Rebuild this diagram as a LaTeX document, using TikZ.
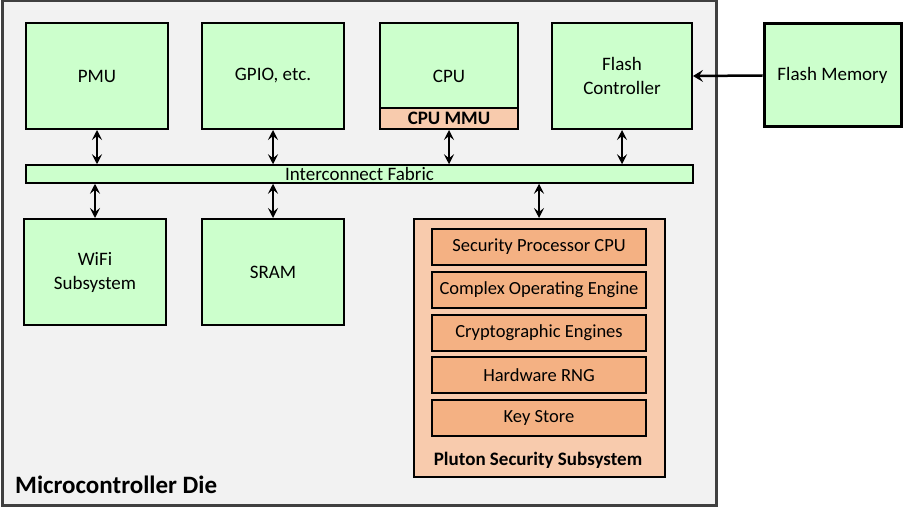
\documentclass[tikz,border=0pt]{standalone}
\usepackage{fontspec}
\setmainfont{Carlito}
\usetikzlibrary{arrows.meta}
\definecolor{gfill}{HTML}{CCFFCC}
\definecolor{ofill}{HTML}{F8CBAD}
\definecolor{odark}{HTML}{F4B183}
\definecolor{diefill}{HTML}{F2F2F2}
\definecolor{dieline}{HTML}{404040}
\tikzset{
  gbox/.style={draw=black, line width=2pt, fill=gfill, inner sep=0pt, align=center,
    font=\fontsize{19}{24}\selectfont},
  obox/.style={draw=black, line width=2pt, fill=odark, inner sep=0pt, align=center,
    minimum width=214pt, minimum height=36pt, font=\fontsize{18.5}{23}\selectfont},
  biarrow/.style={line width=1.5pt, {Stealth[length=10pt,width=10pt,inset=4pt]}-{Stealth[length=10pt,width=10pt,inset=4pt]}},
  onearrow/.style={line width=2.5pt, -{Stealth[length=10pt,width=12pt,inset=4pt]}}
}
\begin{document}
\begin{tikzpicture}[x=1pt,y=-1pt]
\useasboundingbox (0,0) rectangle (913,508);
% die
\node[draw=dieline, line width=3pt, fill=diefill, minimum width=714pt, minimum height=504pt, inner sep=0pt] (die) at (359,253) {};
\node[anchor=base west, font=\fontsize{25}{30}\selectfont\bfseries, inner sep=0pt] (dielabel) at (15,493) {Microcontroller Die};
% top row
\node[gbox, minimum width=142pt, minimum height=106pt] (pmu) at (97,76) {PMU};
\node[gbox, minimum width=142pt, minimum height=106pt] (gpio) at (273,76) {GPIO, etc.};
\node[gbox, minimum width=138pt, minimum height=106pt] (cpu) at (449,76) {CPU};
\node[draw=black, line width=2pt, fill=ofill, inner sep=0pt, minimum width=138pt, minimum height=21pt,
  font=\fontsize{19}{22}\selectfont\bfseries] (mmu) at (449,118.5) {CPU MMU};
\node[gbox, minimum width=140pt, minimum height=106pt] (fctrl) at (622,76) {Flash\\Controller};
\node[gbox, line width=3pt, minimum width=137pt, minimum height=103pt] (fmem) at (832.5,75.5) {Flash Memory};
% fabric
\node[draw=black, line width=1.5pt, fill=gfill, inner sep=0pt, minimum width=667pt, minimum height=18pt,
  font=\fontsize{19}{22}\selectfont] (fabric) at (359.5,174) {Interconnect Fabric};
% bottom row
\node[gbox, minimum width=142pt, minimum height=106pt] (wifi) at (95,272) {WiFi\\Subsystem};
\node[gbox, minimum width=142pt, minimum height=106pt] (sram) at (273,272) {SRAM};
% pluton
\node[draw=black, line width=2pt, fill=ofill, inner sep=0pt, minimum width=251pt, minimum height=258pt] (pluton) at (539,348) {};
\node[obox] (spcpu) at (539,246.5) {Security Processor CPU};
\node[obox] (coe) at (539,290) {Complex Operating Engine};
\node[obox] (crypto) at (539,333) {Cryptographic Engines};
\node[obox] (rng) at (539,375) {Hardware RNG};
\node[obox] (keys) at (539,418) {Key Store};
\node[font=\fontsize{19}{23}\selectfont\bfseries, inner sep=0pt] (plabel) at (538,460) {Pluton Security Subsystem};
% connectors
\draw[biarrow] (pmu.south) -- (pmu.south |- fabric.north);
\draw[biarrow] (gpio.south) -- (gpio.south |- fabric.north);
\draw[biarrow] (mmu.south) -- (mmu.south |- fabric.north);
\draw[biarrow] (fctrl.south) -- (fctrl.south |- fabric.north);
\draw[biarrow] (wifi.north |- fabric.south) -- (wifi.north);
\draw[biarrow] (sram.north |- fabric.south) -- (sram.north);
\draw[biarrow] (pluton.north |- fabric.south) -- (pluton.north);
\draw[onearrow] (fmem.west) -- (fctrl.east);
\end{tikzpicture}
\end{document}
